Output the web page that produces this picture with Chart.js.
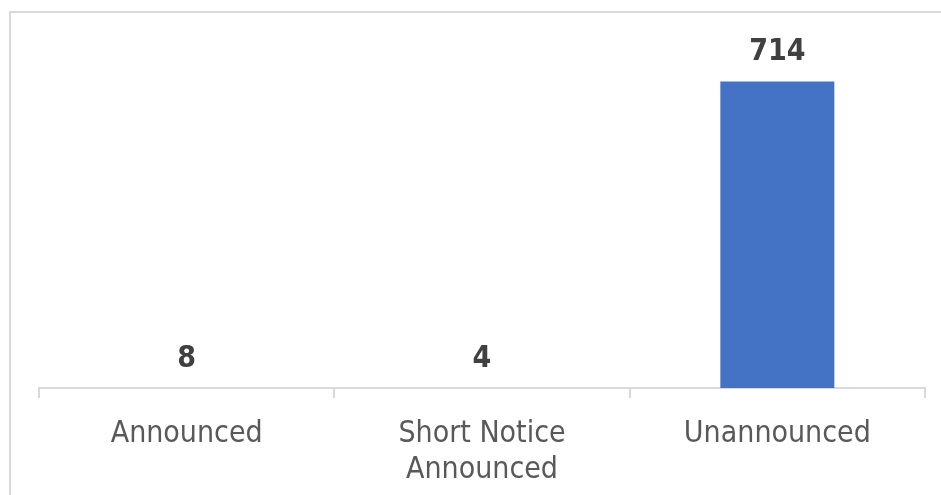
<!DOCTYPE html>
<html>
<head>
<meta charset="utf-8">
<script src="https://cdn.jsdelivr.net/npm/chart.js@4"></script>
<style>
    html, body { margin: 0; padding: 0; background: #fff; overflow: hidden; }
    #wrap { position: relative; width: 941px; height: 495px; }
    #frame {
        position: absolute; left: 9px; top: 11px; width: 960px; height: 520px;
        border-left: 2px solid #d9d9d9; border-top: 2px solid #d9d9d9;
        pointer-events: none;
    }
    canvas { position: absolute; left: 0; top: 0; }
</style>
</head>
<body>
<div id="wrap">
    <canvas id="inspectionChart" width="941" height="495"></canvas>
    <div id="frame"></div>
</div>
<script>
// Inspection counts by notice type
const categories = [['Announced'], ['Short Notice', 'Announced'], ['Unannounced']];
const inspections = [8, 4, 714];
const yMin = 10;
const yMax = 800;

// Draw the value of each bar above it
const valueLabels = {
    id: 'valueLabels',
    afterDatasetsDraw(chart) {
        const ctx = chart.ctx;
        const meta = chart.getDatasetMeta(0);
        const bottom = chart.chartArea.bottom;
        ctx.save();
        ctx.font = 'bold 30px "DejaVu Sans Condensed", "DejaVu Sans", sans-serif';
        ctx.fillStyle = '#404040';
        ctx.textAlign = 'center';
        ctx.textBaseline = 'alphabetic';
        meta.data.forEach(function(bar, i) {
            const top = Math.min(bar.y, bottom);
            ctx.fillText(String(inspections[i]), bar.x, top - 21);
        });
        ctx.restore();
    }
};

Chart.defaults.font.family = '"DejaVu Sans Condensed", "DejaVu Sans", sans-serif';

const ctx = document.getElementById('inspectionChart').getContext('2d');
new Chart(ctx, {
    type: 'bar',
    data: {
        labels: categories,
        datasets: [{
            data: inspections,
            backgroundColor: '#4472c4',
            categoryPercentage: 1,
            barPercentage: 0.386
        }]
    },
    options: {
        responsive: false,
        animation: false,
        layout: {
            padding: { left: 39, right: 16, top: 44, bottom: 0 }
        },
        plugins: {
            legend: { display: false },
            tooltip: { enabled: false }
        },
        scales: {
            x: {
                grid: {
                    offset: true,
                    drawOnChartArea: false,
                    drawTicks: true,
                    tickLength: 10,
                    color: '#d9d9d9',
                    lineWidth: 2
                },
                border: { color: '#d9d9d9', width: 2 },
                ticks: {
                    color: '#595959',
                    padding: 18,
                    maxRotation: 0,
                    font: { size: 30, lineHeight: 1.2 }
                },
                afterFit(scale) {
                    scale.height = 107;
                }
            },
            y: {
                display: false,
                min: yMin,
                max: yMax
            }
        }
    },
    plugins: [valueLabels]
});
</script>
</body>
</html>
